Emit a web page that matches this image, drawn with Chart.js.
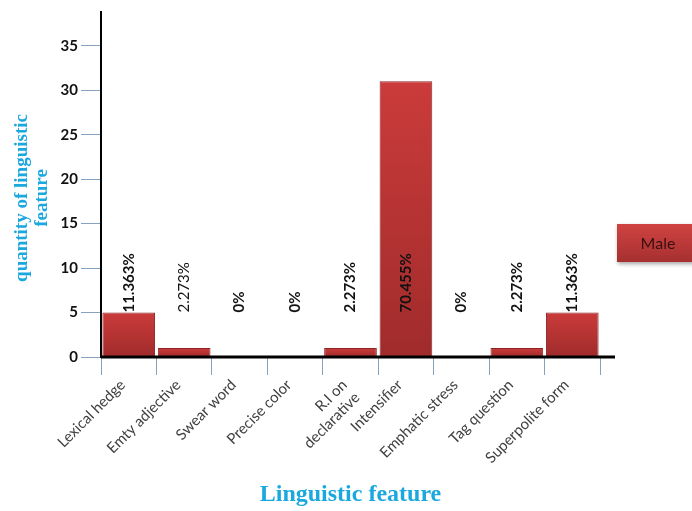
<!DOCTYPE html>
<html>
<head>
<meta charset="utf-8">
<script src="https://cdn.jsdelivr.net/npm/chart.js@4/dist/chart.umd.min.js"></script>
<style>
  html, body { margin: 0; padding: 0; background: #fff; }
  #wrap { width: 692px; height: 511px; }
</style>
</head>
<body>
<div id="wrap"><canvas id="myChart"></canvas></div>
<script>
var features = ['Lexical hedge', 'Emty adjective', 'Swear word', 'Precise color', ['R.I on', 'declarative'],
    'Intensifier', 'Emphatic stress', 'Tag question', 'Superpolite form'];
var maleCounts = [5, 1, 0, 0, 1, 31, 0, 1, 5];
var percentLabels = ['11.363%', '2.273%', '0%', '0%', '2.273%', '70.455%', '0%', '2.273%', '11.363%'];
var yTicks = [0, 5, 10, 15, 20, 25, 30, 35];

var labelWeights = ['bold', 'normal', 'bold', 'bold', 'bold', 'bold', 'bold', 'bold', 'bold'];
var cyan = '#1ba8df';

// red bar fill, light at the top of each bar and darker towards the axis
function barFill(c) {
    var chart = c.chart;
    if (!chart.chartArea || c.raw === undefined) return '#c23a3a';
    var y = chart.scales.y;
    var top = y.getPixelForValue(c.raw);
    var bottom = y.getPixelForValue(0);
    if (bottom - top < 2) return '#a83030';
    var g = chart.ctx.createLinearGradient(0, top, 0, bottom);
    g.addColorStop(0, '#cb3b3b');
    g.addColorStop(1, '#a02b2b');
    return g;
}

var extras = {
    id: 'extras',
    afterDatasetsDraw: function (chart) {
        var ctx = chart.ctx;
        var area = chart.chartArea;
        var y = chart.scales.y;
        var meta = chart.getDatasetMeta(0);

        // x axis line, running a little past the last category
        ctx.save();
        ctx.strokeStyle = '#000';
        ctx.lineWidth = 3;
        ctx.beginPath();
        ctx.moveTo(area.left, area.bottom);
        ctx.lineTo(area.right + 15, area.bottom);
        ctx.stroke();
        ctx.restore();

        // percentage labels, rotated, all ending at the 5 line
        var base = y.getPixelForValue(5);
        meta.data.forEach(function (bar, i) {
            ctx.save();
            ctx.translate(bar.x, base);
            ctx.rotate(-Math.PI / 2);
            ctx.font = labelWeights[i] + ' 15px Lato';
            ctx.fillStyle = '#111';
            ctx.textAlign = 'left';
            ctx.textBaseline = 'middle';
            ctx.fillText(percentLabels[i], 0, 0);
            ctx.restore();
        });

        // y axis title
        ctx.save();
        ctx.translate(0, 198);
        ctx.rotate(-Math.PI / 2);
        ctx.font = 'bold 19px "Liberation Serif"';
        ctx.fillStyle = cyan;
        ctx.textAlign = 'center';
        ctx.textBaseline = 'middle';
        ctx.fillText('quantity of linguistic', 0, 22);
        ctx.fillText('feature', 0, 42);
        ctx.restore();

        // legend box
        var lx = 617, ly = 224, lw = 80, lh = 38;
        ctx.save();
        ctx.shadowColor = 'rgba(0,0,0,0.35)';
        ctx.shadowBlur = 4;
        ctx.shadowOffsetX = 1;
        ctx.shadowOffsetY = 2;
        var g = ctx.createLinearGradient(0, ly, 0, ly + lh);
        g.addColorStop(0, '#d04343');
        g.addColorStop(1, '#a63030');
        ctx.fillStyle = g;
        ctx.fillRect(lx, ly, lw, lh);
        ctx.restore();
        ctx.save();
        ctx.font = '16px Lato';
        ctx.fillStyle = '#3a0f0f';
        ctx.textAlign = 'center';
        ctx.textBaseline = 'middle';
        ctx.fillText(chart.data.datasets[0].label, 658, ly + lh / 2 + 1);
        ctx.restore();
    }
};

var ctx = document.getElementById('myChart');
var myChart = new Chart(ctx, {
    type: 'bar',
    data: {
        labels: features,
        datasets: [{
            label: 'Male',
            data: maleCounts,
            backgroundColor: barFill,
            borderColor: '#8c2424',
            borderWidth: 1,
            barPercentage: 0.95,
            categoryPercentage: 1
        }]
    },
    options: {
        responsive: true,
        maintainAspectRatio: false,
        animation: false,
        layout: { padding: { top: 10, right: 92, left: 0, bottom: 0 } },
        plugins: {
            legend: { display: false },
            tooltip: { enabled: false }
        },
        scales: {
            x: {
                offset: true,
                afterFit: function (s) { s.height = 154; },
                grid: {
                    offset: true,
                    drawOnChartArea: false,
                    tickLength: 18,
                    color: '#86a2bf'
                },
                border: { display: false },
                ticks: {
                    minRotation: 45,
                    maxRotation: 45,
                    padding: 1,
                    labelOffset: -6,
                    color: '#404040',
                    font: { family: 'Lato', size: 15 }
                },
                title: {
                    display: true,
                    text: 'Linguistic feature',
                    color: cyan,
                    padding: { top: 0, bottom: 2 },
                    font: { family: 'Liberation Serif', size: 24, weight: 'bold' }
                }
            },
            y: {
                min: 0,
                max: 38.8,
                afterFit: function (s) { s.width = 101; },
                afterBuildTicks: function (s) {
                    s.ticks = yTicks.map(function (v) { return { value: v }; });
                },
                grid: {
                    drawOnChartArea: false,
                    tickLength: 20,
                    color: '#86a2bf'
                },
                border: { color: '#000', width: 2 },
                ticks: {
                    padding: 3,
                    color: '#111',
                    font: { family: 'Lato', size: 15, weight: 'bold' }
                }
            }
        }
    },
    plugins: [extras]
});
</script>
</body>
</html>
